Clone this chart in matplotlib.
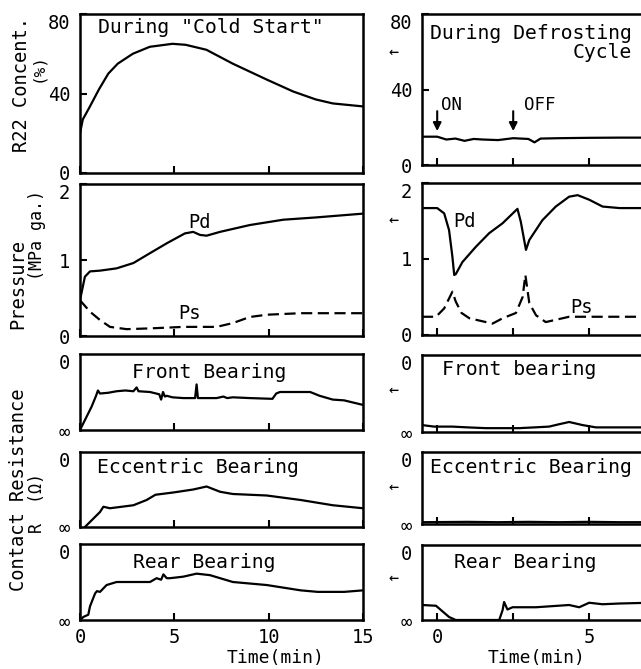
import matplotlib
matplotlib.use("Agg")
import matplotlib.pyplot as plt

plt.rcParams['font.family'] = ['DejaVu Sans Mono', 'DejaVu Sans']

# ---------------- data ----------------
# Left column: "Cold Start", time in min
cs_r22_t = [0, 0.15, 0.5, 1.0, 1.5, 2.0, 2.8, 3.7, 4.9, 5.6, 6.7, 8.1, 9.9, 11.3, 12.5, 13.4, 15.0]
cs_r22_v = [20, 27, 33, 42, 50, 55, 60, 63.5, 65, 64.5, 62, 55, 47, 41, 37, 35, 33.5]

cs_pd_t = [0, 0.15, 0.26, 0.53, 1.06, 1.94, 2.83, 3.71, 4.6, 5.56, 6.0, 6.36, 6.71, 7.42, 9.0, 10.77, 12.5, 15.0]
cs_pd_v = [0.47, 0.65, 0.78, 0.85, 0.86, 0.89, 0.96, 1.09, 1.22, 1.35, 1.37, 1.33, 1.32, 1.37, 1.46, 1.53, 1.56, 1.61]
cs_ps_t = [0, 0.53, 1.06, 1.59, 2.47, 3.7, 5.5, 7.24, 8.1, 9.0, 9.9, 11.7, 15.0]
cs_ps_v = [0.47, 0.32, 0.21, 0.12, 0.09, 0.10, 0.12, 0.12, 0.17, 0.25, 0.28, 0.30, 0.30]

cs_front_t = [0, 0.26, 0.62, 0.85, 0.95, 1.06, 1.5, 1.94, 2.4, 2.83, 3.0, 3.1, 3.71, 4.2, 4.3, 4.4, 4.5,
              4.6, 4.9, 5.47, 6.1, 6.18, 6.25, 6.6, 7.24, 7.6, 7.8, 8.1, 9.0, 10.2, 10.4, 10.6, 12.2,
              12.7, 13.4, 14.0, 15.0]
cs_front_v = [0, 0.13, 0.31, 0.45, 0.52, 0.48, 0.49, 0.51, 0.52, 0.51, 0.56, 0.51, 0.50, 0.47, 0.40,
              0.50, 0.44, 0.45, 0.43, 0.42, 0.42, 0.60, 0.42, 0.42, 0.42, 0.44, 0.42, 0.43, 0.42,
              0.41, 0.48, 0.50, 0.50, 0.45, 0.40, 0.39, 0.33]

cs_ecc_t = [0.26, 1.06, 1.24, 1.59, 2.83, 3.53, 4.0, 4.94, 6.0, 6.71, 7.42, 8.1, 9.9, 11.7, 13.4, 15.0]
cs_ecc_v = [0, 0.20, 0.27, 0.25, 0.29, 0.36, 0.43, 0.46, 0.50, 0.54, 0.47, 0.44, 0.42, 0.36, 0.29, 0.25]

cs_rear_t = [0, 0.18, 0.44, 0.53, 0.8, 0.9, 1.06, 1.41, 1.94, 2.83, 3.71, 4.06, 4.3, 4.42, 4.6, 4.77,
             5.47, 6.18, 6.89, 8.1, 9.9, 11.7, 12.6, 14.0, 15.0]
cs_rear_v = [0, 0.04, 0.07, 0.18, 0.35, 0.38, 0.37, 0.46, 0.50, 0.50, 0.50, 0.55, 0.53, 0.60, 0.55, 0.55,
             0.57, 0.61, 0.59, 0.50, 0.46, 0.39, 0.37, 0.37, 0.39]

# Right column: defrosting cycle
df_r22_t = [-0.5, 0, 0.3, 0.6, 0.9, 1.2, 1.5, 2.0, 2.5, 3.0, 3.2, 3.4, 4.0, 5.0, 6.0, 7.0]
df_r22_v = [15, 15, 13.5, 14, 12.8, 13.8, 13.5, 13.2, 14.2, 13.8, 12.0, 14.0, 14.2, 14.4, 14.5, 14.5]

df_pd_t = [-0.5, 0, 0.23, 0.39, 0.5, 0.56, 0.61, 0.83, 1.27, 1.71, 2.15, 2.64, 2.75, 2.92, 3.03, 3.46,
           3.9, 4.34, 4.62, 5.0, 5.44, 6.0, 7.0]
df_pd_v = [1.67, 1.67, 1.60, 1.38, 1.03, 0.79, 0.80, 0.96, 1.16, 1.34, 1.47, 1.66, 1.49, 1.12, 1.25, 1.51,
           1.69, 1.82, 1.84, 1.78, 1.69, 1.67, 1.67]
df_ps_t = [-0.5, -0.04, 0.23, 0.5, 0.61, 0.8, 1.06, 1.82, 2.15, 2.59, 2.81, 2.9, 3.03, 3.25, 3.57, 4.34, 7.0]
df_ps_v = [0.24, 0.24, 0.35, 0.57, 0.44, 0.29, 0.22, 0.15, 0.22, 0.29, 0.50, 0.79, 0.42, 0.26, 0.17, 0.24, 0.24]

df_front_t = [-0.5, -0.1, 0.5, 1.0, 1.6, 2.2, 2.7, 3.2, 3.68, 4.0, 4.34, 4.78, 5.22, 6.0, 7.0]
df_front_v = [0.09, 0.07, 0.07, 0.06, 0.05, 0.05, 0.05, 0.06, 0.07, 0.10, 0.13, 0.09, 0.06, 0.06, 0.06]

df_ecc_t = [-0.5, 1.0, 2.0, 3.0, 4.0, 5.0, 6.0, 7.0]
df_ecc_v = [0.025, 0.03, 0.025, 0.03, 0.025, 0.03, 0.025, 0.025]

df_rear_t = [-0.5, -0.04, 0.39, 0.61, 1.0, 2.04, 2.15, 2.2, 2.31, 2.48, 3.25, 4.34, 4.67, 5.0, 5.44, 6.0, 7.0]
df_rear_v = [0.20, 0.19, 0.04, 0.0, 0.0, 0.0, 0.13, 0.24, 0.14, 0.17, 0.17, 0.20, 0.17, 0.23, 0.21, 0.22, 0.23]

left_titles = ['During "Cold Start"', 'Front Bearing', 'Eccentric Bearing', 'Rear Bearing']
right_titles = ['During Defrosting', 'Cycle', 'Front bearing', 'Eccentric Bearing', 'Rear Bearing']

# ---------------- layout ----------------
W, H = 641, 669
fig = plt.figure(figsize=(W / 100, H / 100), dpi=100)
fig.patch.set_facecolor('white')

def rect(l, r, t, b):
    return [l / W, 1 - b / H, (r - l) / W, (b - t) / H]

left_rows = [(14, 173), (184, 336), (354, 430), (452, 527), (544, 620)]
right_rows = [(14, 165), (183, 335), (355, 432), (452, 524), (545, 620)]
LW = 1.6
FS = 13.5
TFS = 14.2

def style(ax, xlim, xt, minor=None, bottom=False):
    ax.set_xlim(*xlim)
    ax.set_xticks(xt)
    if minor:
        ax.set_xticks(minor, minor=True)
    for s in ax.spines.values():
        s.set_linewidth(1.8)
    ax.tick_params(axis='both', which='both', direction='in', length=5, width=1.5,
                   labelsize=FS, pad=7)
    ax.tick_params(axis='x', pad=6)
    if not bottom:
        ax.tick_params(axis='x', labelbottom=False)

def make_col(rows, l, r, xlim, xt, minor, xlabels):
    axes = []
    for i, (t, b) in enumerate(rows):
        ax = fig.add_axes(rect(l, r, t, b))
        style(ax, xlim, xt, minor, bottom=(i == 4))
        axes.append(ax)
    a = axes
    a[0].set_ylim(0, 80); a[0].set_yticks([0, 40, 80])
    a[1].set_ylim(0, 2); a[1].set_yticks([0, 1, 2])
    for ax in a[2:]:
        ax.set_ylim(0, 1)
        ax.set_yticks([0, 1])
        ax.set_yticklabels(['∞', '0'])
        ax.tick_params(axis='y', length=0)
    a[4].set_xticklabels(xlabels)
    # top labels sit just below the top spine, as in the reference
    for ax in a:
        labs = ax.get_yticklabels()
        labs[-1].set_verticalalignment('top')
    return a

L = make_col(left_rows, 80, 363, (0, 15), [0, 5, 10, 15], None, ['0', '5', '10', '15'])
R = make_col(right_rows, 422, 650, (-0.5, 7), [0, 5], [2.5], ['0', '5'])

k = dict(color='black', lw=LW)
dash = dict(color='black', lw=LW, ls=(0, (5, 2.5)))

# left column
L[0].plot(cs_r22_t, cs_r22_v, **k)
L[1].plot(cs_pd_t, cs_pd_v, **k)
L[1].plot(cs_ps_t, cs_ps_v, **dash)
L[2].plot(cs_front_t, cs_front_v, **k)
L[3].plot(cs_ecc_t, cs_ecc_v, **k)
L[4].plot(cs_rear_t, cs_rear_v, **k)

L[0].text(0.064, 0.918, left_titles[0], transform=L[0].transAxes, fontsize=TFS, ha='left', va='center')
L[1].text(6.36, 1.49, 'Pd', fontsize=FS, ha='center', va='center')
L[1].text(5.83, 0.30, 'Ps', fontsize=FS, ha='center', va='center')
L[2].text(0.456, 0.76, left_titles[1], transform=L[2].transAxes, fontsize=TFS, ha='center', va='center')
L[3].text(0.416, 0.79, left_titles[2], transform=L[3].transAxes, fontsize=TFS, ha='center', va='center')
L[4].text(0.44, 0.75, left_titles[3], transform=L[4].transAxes, fontsize=TFS, ha='center', va='center')

# right column
R[0].plot(df_r22_t, df_r22_v, **k)
R[1].plot(df_pd_t, df_pd_v, **k)
R[1].plot(df_ps_t, df_ps_v, **dash)
R[2].plot(df_front_t, df_front_v, **k)
R[3].plot(df_ecc_t, df_ecc_v, **k)
R[4].plot(df_rear_t, df_rear_v, **k)

R[0].text(0.921, 0.874, right_titles[0], transform=R[0].transAxes, fontsize=TFS, ha='right', va='center')
R[0].text(0.921, 0.748, right_titles[1], transform=R[0].transAxes, fontsize=TFS, ha='right', va='center')
for xa, lab in [(0, 'ON'), (2.5, 'OFF')]:
    R[0].annotate('', xy=(xa, 16.5), xytext=(xa, 30),
                  arrowprops=dict(arrowstyle='-|>', lw=1.5, color='black', mutation_scale=12))
R[0].text(0.12, 32, 'ON', fontsize=FS - 1, ha='left', va='center')
R[0].text(2.86, 32, 'OFF', fontsize=FS - 1, ha='left', va='center')
R[1].text(0.89, 1.49, 'Pd', fontsize=FS, ha='center', va='center')
R[1].text(4.75, 0.36, 'Ps', fontsize=FS, ha='center', va='center')
R[2].text(0.425, 0.81, right_titles[2], transform=R[2].transAxes, fontsize=TFS, ha='center', va='center')
R[3].text(0.478, 0.79, right_titles[3], transform=R[3].transAxes, fontsize=TFS, ha='center', va='center')
R[4].text(0.452, 0.77, right_titles[4], transform=R[4].transAxes, fontsize=TFS, ha='center', va='center')

# "same as left" arrows
for py in [52, 220, 390, 487, 578]:
    fig.text(393 / W, 1 - py / H, '←', fontsize=12, ha='center', va='center')

# y labels
def ftxt(x, y, s, size, rot=90):
    fig.text(x / W, 1 - y / H, s, fontsize=size, rotation=rot, ha='center', va='center')

ftxt(22, 84, 'R22 Concent.', 13.5)
ftxt(38, 68, '(%)', 11.5)
ftxt(18, 284, 'Pressure', 13.5)
ftxt(37, 235, '(MPa ga.)', 12)
ftxt(19, 490, 'Contact Resistance', 13.5)
ftxt(37, 503, 'R  (Ω)', 12)

# x labels
ftxt(276, 658, 'Time(min)', 13, rot=0)
ftxt(537, 658, 'Time(min)', 13, rot=0)

fig.savefig('out.png', dpi=100, facecolor='white')
